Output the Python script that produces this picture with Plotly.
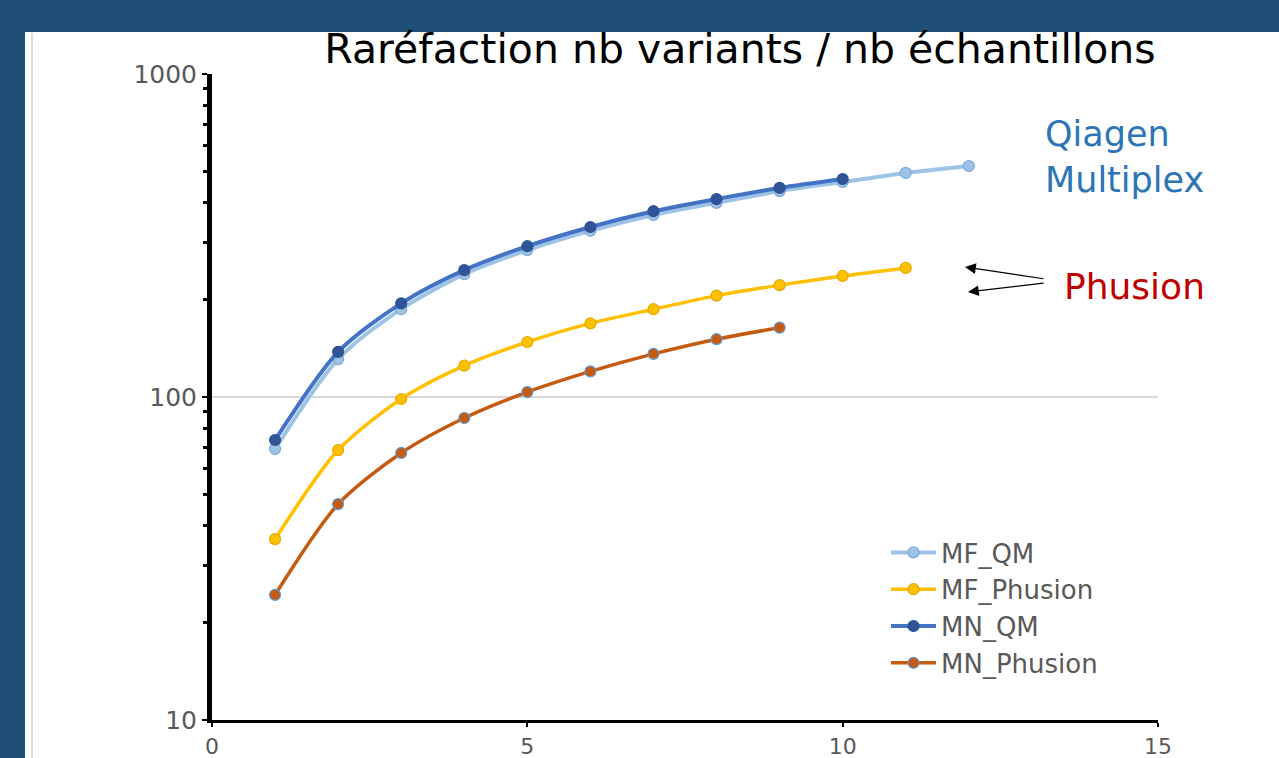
import plotly.graph_objects as go

# ---- data ----
mf_qm_x = [1, 2, 3, 4, 5, 6, 7, 8, 9, 10, 11, 12]
mf_qm_y = [69, 131, 187, 240, 285, 327, 366, 399, 434, 463, 494, 519]

mf_ph_x = [1, 2, 3, 4, 5, 6, 7, 8, 9, 10, 11]
mf_ph_y = [36.3, 68.5, 98.6, 125, 148, 169, 187, 206, 222, 237, 251]

mn_qm_x = [1, 2, 3, 4, 5, 6, 7, 8, 9, 10]
mn_qm_y = [73.6, 138, 195, 247, 293, 336, 376, 410, 444, 473]

mn_ph_x = [1, 2, 3, 4, 5, 6, 7, 8, 9]
mn_ph_y = [24.4, 46.6, 67.1, 86.1, 103.6, 120, 136, 151, 164]

y_tickvals = [10, 100, 1000]
y_ticktext = ["10", "100", "1000"]
y_minor_vals = [m * d for d in (10, 100) for m in range(2, 10)]
x_tickvals = [0, 5, 10, 15]

title_text = "Raréfaction nb variants / nb échantillons"

# ---- figure ----
W, H = 1279, 758
L, R, T, B = 212, 121, 74, 38
pw, ph = W - L - R, H - T - B

def px_x(px):
    return (px - L) / pw

def px_y(py):
    return (H - B - py) / ph

FONT = "DejaVu Sans"
GRAY = "#595959"

fig = go.Figure()

series = [
    ("MF_QM", mf_qm_x, mf_qm_y, "#9DC3E6", "#9DC3E6", "#7FA9D6", 4),
    ("MF_Phusion", mf_ph_x, mf_ph_y, "#FFC000", "#FFC000", "#E3AA00", 3.5),
    ("MN_QM", mn_qm_x, mn_qm_y, "#4472C4", "#2F5597", "#2F5597", 4),
    ("MN_Phusion", mn_ph_x, mn_ph_y, "#C55A11", "#C55A11", "#5B9BD5", 3.5),
]
for name, xs, ys, lc, mc, mlc, lw in series:
    fig.add_trace(go.Scatter(
        x=xs, y=ys, name=name, mode="lines+markers",
        line=dict(color=lc, width=lw, shape="spline", smoothing=0.8),
        marker=dict(size=11, color=mc, line=dict(color=mlc, width=1.2)),
    ))

shapes = [
    # white panel over the dark-blue frame
    dict(type="rect", xref="paper", yref="paper",
         x0=px_x(25), x1=px_x(W + 5), y0=px_y(H + 10), y1=px_y(32),
         fillcolor="white", line=dict(width=0), layer="below"),
    dict(type="line", xref="paper", yref="paper",
         x0=px_x(32), x1=px_x(32), y0=px_y(H + 10), y1=px_y(33),
         line=dict(color="#D0D0D0", width=1.5), layer="below"),
]

annotations = [
    dict(text="Qiagen<br>Multiplex", xref="paper", yref="paper",
         x=px_x(1043), y=px_y(157), xanchor="left", yanchor="middle",
         align="left", showarrow=False,
         font=dict(family=FONT, size=35, color="#2E75B6")),
    dict(text="Phusion", xref="paper", yref="paper",
         x=px_x(1062), y=px_y(286), xanchor="left", yanchor="middle",
         showarrow=False, font=dict(family=FONT, size=36, color="#C00000")),
    dict(text="", xref="paper", yref="paper", x=px_x(965), y=px_y(267),
         ax=80, ay=12, axref="pixel", ayref="pixel", showarrow=True,
         arrowhead=2, arrowsize=1.8, arrowwidth=1.2, arrowcolor="black"),
    dict(text="", xref="paper", yref="paper", x=px_x(968), y=px_y(292),
         ax=77, ay=-9, axref="pixel", ayref="pixel", showarrow=True,
         arrowhead=2, arrowsize=1.8, arrowwidth=1.2, arrowcolor="black"),
]

fig.update_layout(
    width=W, height=H,
    margin=dict(l=L, r=R, t=T, b=B, pad=0, autoexpand=False),
    paper_bgcolor="#1F4E79",
    plot_bgcolor="white",
    title=dict(text=title_text, x=740 / W, xanchor="center", xref="container",
               y=1 - 49 / H, yref="container", yanchor="middle",
               font=dict(family=FONT, size=41, color="black")),
    showlegend=True,
    legend=dict(x=px_x(886), y=px_y(529), xanchor="left", yanchor="top",
                bgcolor="rgba(0,0,0,0)", font=dict(family=FONT, size=26, color=GRAY),
                itemwidth=45, tracegroupgap=0),
    shapes=shapes,
    annotations=annotations,
    xaxis=dict(range=[0, 15], tickvals=x_tickvals, showgrid=False, zeroline=False,
               automargin=False,
               showline=True, linecolor="black", linewidth=3,
               ticks="outside", ticklen=4, tickcolor="black", tickwidth=2,
               ticklabelstandoff=1,
               tickfont=dict(family=FONT, size=22, color=GRAY)),
    yaxis=dict(type="log", range=[1, 3], tickvals=y_tickvals, ticktext=y_ticktext,
               automargin=False,
               showgrid=True, gridcolor="#D9D9D9", gridwidth=1.5, zeroline=False,
               showline=True, linecolor="black", linewidth=5,
               ticks="outside", ticklen=5, tickcolor="black", tickwidth=2,
               minor=dict(tickvals=y_minor_vals, ticks="outside", ticklen=4,
                          tickcolor="black", tickwidth=3, showgrid=False),
               tickfont=dict(family=FONT, size=25, color=GRAY)),
)

fig.write_html("out.html", config={"displayModeBar": False},
               post_script="document.body.style.margin='0';document.body.style.overflow='hidden';")
